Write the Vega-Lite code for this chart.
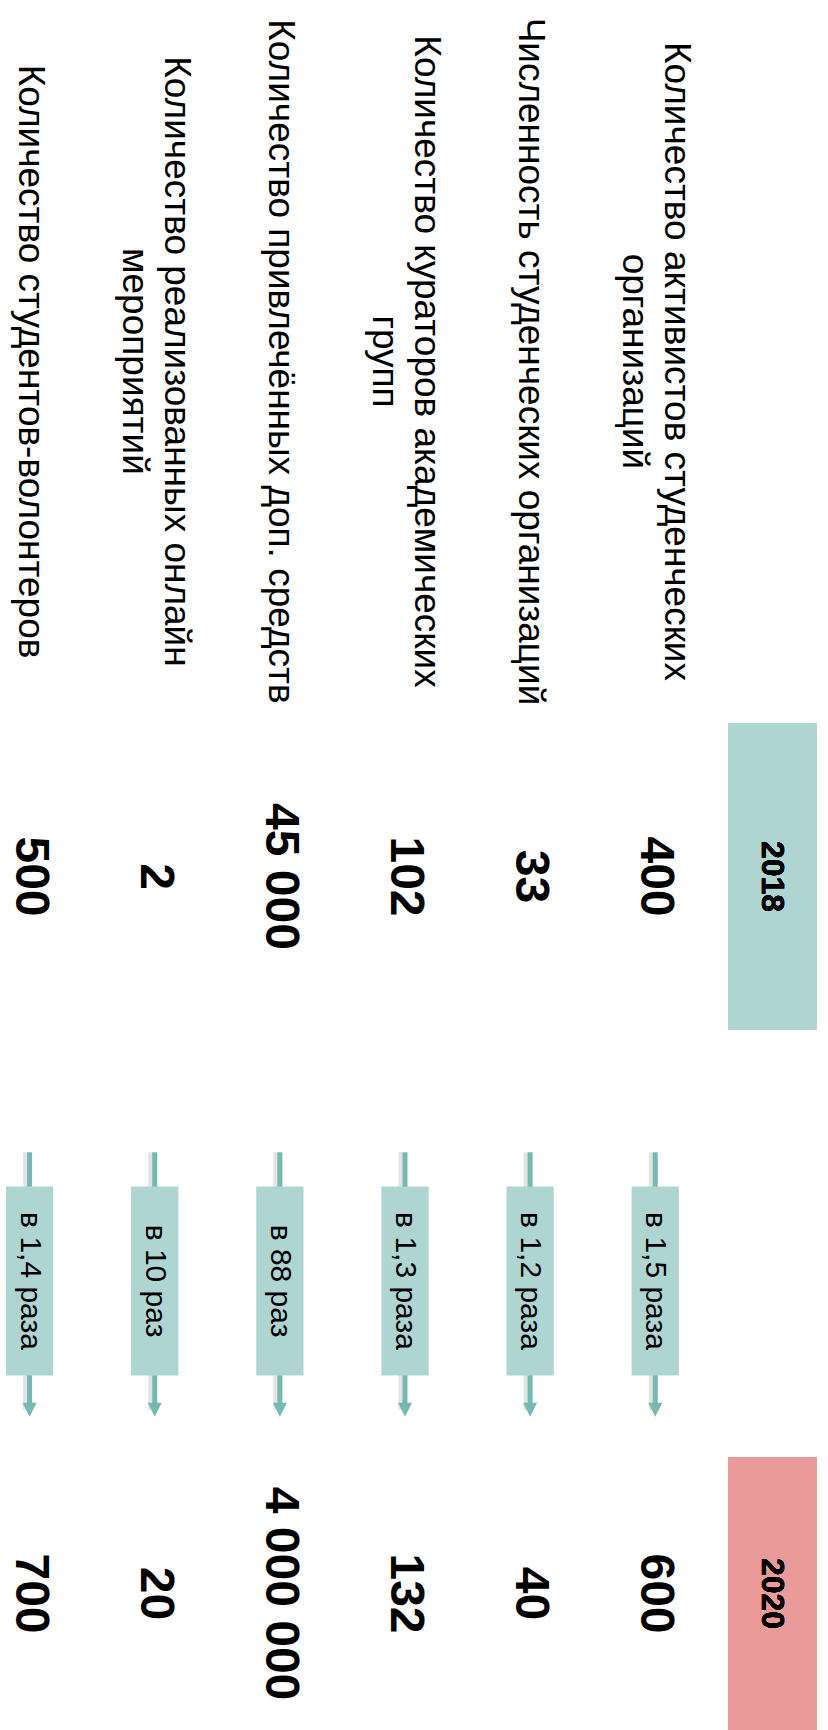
{
  "$schema": "https://vega.github.io/schema/vega-lite/v6.json",
  "padding": 0,
  "spacing": 0,
  "bounds": "flush",
  "background": "white",
  "config": {"view": {"stroke": null}, "text": {"font": "Liberation Sans", "color": "#000000"}},
  "datasets": {
    "metrics": [
      {"row": "r1", "label": "Количество активистов студенческих\nорганизаций", "v2018": "400", "v2020": "600", "change": "в 1,5 раза"},
      {"row": "r2", "label": "Численность студенческих организаций", "v2018": "33", "v2020": "40", "change": "в 1,2 раза"},
      {"row": "r3", "label": "Количество кураторов академических\nгрупп", "v2018": "102", "v2020": "132", "change": "в 1,3 раза"},
      {"row": "r4", "label": "Количество привлечённых доп. средств", "v2018": "45 000", "v2020": "4 000 000", "change": "в 88 раз"},
      {"row": "r5", "label": "Количество реализованных онлайн\nмероприятий", "v2018": "2", "v2020": "20", "change": "в 10 раз"},
      {"row": "r6", "label": "Количество студентов-волонтеров", "v2018": "500", "v2020": "700", "change": "в 1,4 раза"}
    ]
  },
  "vconcat": [
    {
      "width": 810, "height": 723,
      "data": {"name": "metrics"},
      "encoding": {
        "x": {"field": "row", "type": "nominal", "scale": {"type": "band", "domain": ["r6", "r5", "r4", "r3", "r2", "r1", "head"], "paddingInner": 0.527, "paddingOuter": 0}, "axis": null},
        "text": {"field": "label"}
      },
      "layer": [
        {
          "transform": [{"filter": "indexof(datum.label, '\\n') < 0"}],
          "mark": {"type": "text", "angle": 90, "fontSize": 37, "lineHeight": 42, "lineBreak": "\n", "align": "center", "baseline": "middle"}
        },
        {
          "transform": [{"filter": "indexof(datum.label, '\\n') >= 0"}],
          "mark": {"type": "text", "angle": 90, "fontSize": 37, "lineHeight": 42, "lineBreak": "\n", "align": "center", "baseline": "middle", "dy": -21}
        }
      ]
    },
    {
      "width": 810, "height": 307,
      "data": {"name": "metrics"},
      "layer": [
        {
          "mark": {"type": "rect", "width": 88, "color": "#afd5d2", "xOffset": -8},
          "encoding": {"x": {"datum": "head", "type": "nominal", "scale": {"type": "band", "domain": ["r6", "r5", "r4", "r3", "r2", "r1", "head"], "paddingInner": 0.527, "paddingOuter": 0}, "axis": null}}
        },
        {
          "mark": {"type": "text", "angle": 90, "fontSize": 32, "fontWeight": "bold", "align": "center", "baseline": "middle", "xOffset": -8},
          "encoding": {"x": {"datum": "head", "type": "nominal"}, "text": {"value": "2018"}}
        },
        {
          "mark": {"type": "text", "angle": 90, "fontSize": 48, "fontWeight": "bold", "align": "center", "baseline": "middle"},
          "encoding": {"x": {"field": "row", "type": "nominal"}, "text": {"field": "v2018"}}
        }
      ]
    },
    {
      "width": 810, "height": 75,
      "data": {"values": [{}]},
      "mark": {"type": "text"},
      "encoding": {"text": {"value": ""}}
    },
    {
      "width": 810, "height": 352,
      "data": {"name": "metrics"},
      "encoding": {
        "x": {"field": "row", "type": "nominal", "scale": {"type": "band", "domain": ["r6", "r5", "r4", "r3", "r2", "r1", "head"], "paddingInner": 0.527, "paddingOuter": 0}, "axis": null}
      },
      "layer": [
        {
          "mark": {"type": "rule", "color": "#d0d0d0", "strokeWidth": 5, "xOffset": -4, "opacity": 0.6},
          "encoding": {
            "y": {"datum": "2018", "type": "nominal", "scale": {"type": "point", "domain": ["2018", "2020"], "padding": 0.183}, "axis": null},
            "y2": {"datum": "2020"}
          }
        },
        {
          "mark": {"type": "rule", "color": "#76b9b3", "strokeWidth": 5},
          "encoding": {
            "y": {"datum": "2018", "type": "nominal"},
            "y2": {"datum": "2020"}
          }
        },
        {
          "mark": {"type": "point", "shape": "M-1,-1L1,-1L0,1Z", "filled": true, "size": 196, "color": "#76b9b3", "opacity": 1},
          "encoding": {"y": {"datum": "2020", "type": "nominal"}}
        },
        {
          "mark": {"type": "point", "shape": "M-0.25,-1L0.25,-1L0.25,1L-0.25,1Z", "filled": true, "size": 35721, "color": "#afd5d2", "opacity": 1}
        },
        {
          "mark": {"type": "text", "angle": 90, "fontSize": 30, "align": "center", "baseline": "middle"},
          "encoding": {"text": {"field": "change"}}
        }
      ]
    },
    {
      "width": 810, "height": 273,
      "data": {"name": "metrics"},
      "layer": [
        {
          "mark": {"type": "rect", "width": 88, "color": "#eb9a9a", "xOffset": -8},
          "encoding": {"x": {"datum": "head", "type": "nominal", "scale": {"type": "band", "domain": ["r6", "r5", "r4", "r3", "r2", "r1", "head"], "paddingInner": 0.527, "paddingOuter": 0}, "axis": null}}
        },
        {
          "mark": {"type": "text", "angle": 90, "fontSize": 32, "fontWeight": "bold", "align": "center", "baseline": "middle", "xOffset": -8},
          "encoding": {"x": {"datum": "head", "type": "nominal"}, "text": {"value": "2020"}}
        },
        {
          "mark": {"type": "text", "angle": 90, "fontSize": 48, "fontWeight": "bold", "align": "center", "baseline": "middle"},
          "encoding": {"x": {"field": "row", "type": "nominal"}, "text": {"field": "v2020"}}
        }
      ]
    }
  ]
}
